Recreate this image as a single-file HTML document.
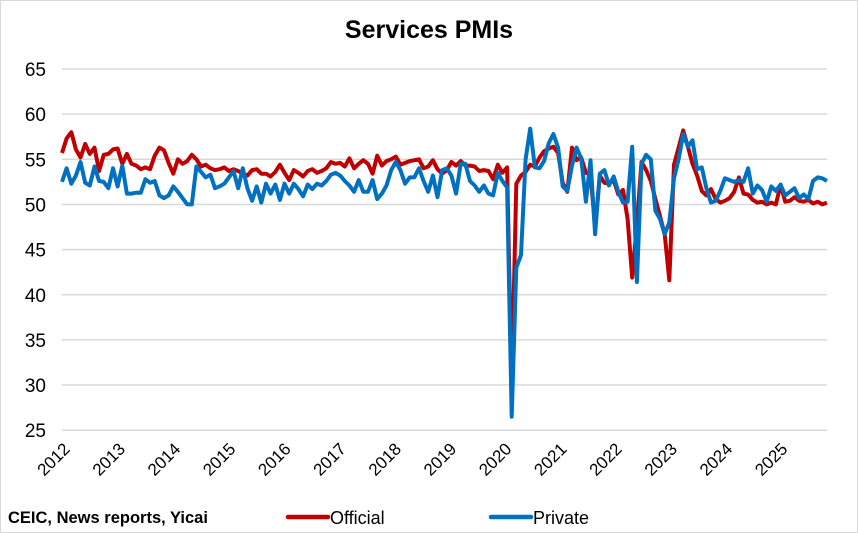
<!DOCTYPE html>
<html><head><meta charset="utf-8"><style>
html,body{margin:0;padding:0;background:#fff;}
svg{display:block;font-family:"Liberation Sans",Arial,sans-serif;}
</style></head><body>
<svg id="c" width="858" height="533" viewBox="0 0 858 533" xmlns="http://www.w3.org/2000/svg">
<rect x="0.5" y="0.5" width="857" height="532" fill="#fff" stroke="#d9d9d9" stroke-width="1"/>
<text x="429" y="38" text-anchor="middle" font-size="25" font-weight="bold" fill="#000">Services PMIs</text>
<g id="grid"></g>
<g id="lines"></g>
<text x="8" y="523" font-size="16.5" font-weight="bold" fill="#000">CEIC, News reports, Yicai</text>
<line x1="288" y1="517" x2="328" y2="517" stroke="#c00000" stroke-width="4.5" stroke-linecap="round"/>
<text x="330" y="524" font-size="18" fill="#000">Official</text>
<line x1="491" y1="517" x2="531" y2="517" stroke="#0070c0" stroke-width="4.5" stroke-linecap="round"/>
<text x="533" y="524" font-size="18" fill="#000">Private</text>
</svg>
<script>
var NS="http://www.w3.org/2000/svg";
function y(v){return 69+(65-v)*9.03;}
function x(i){return 62+i*4.636;}
var g=document.getElementById('grid');
var h='';
for(var v=25;v<=65;v+=5){h+='<line x1="62" x2="827" y1="'+y(v)+'" y2="'+y(v)+'" stroke="#d9d9d9" stroke-width="1.5"/>';
h+='<text x="46" y="'+(y(v)+7)+'" text-anchor="end" font-size="19" fill="#000">'+v+'</text>';}
for(var k=0;k<14;k++){var lx=71+55.2*k, ly=450;
h+='<text transform="translate('+lx+','+ly+') rotate(-45)" text-anchor="end" font-size="17" fill="#000">'+(2012+k)+'</text>';}
g.innerHTML=h;
var red=[55.7,57.3,58.0,56.1,55.2,56.7,55.6,56.3,53.7,55.5,55.6,56.1,
56.2,54.5,55.6,54.5,54.3,53.9,54.1,53.9,55.4,56.3,56.0,54.6,
53.4,55.0,54.5,54.8,55.5,55.0,54.2,54.4,54.0,53.8,53.9,54.1,
53.7,53.9,53.7,53.4,53.2,53.8,53.9,53.4,53.4,53.1,53.6,54.4,
53.5,52.7,53.8,53.5,53.1,53.7,53.9,53.5,53.7,54.0,54.7,54.5,
54.6,54.2,55.1,54.0,54.5,54.9,54.5,53.4,55.4,54.3,54.8,55.0,
55.3,54.4,54.6,54.8,54.9,55.0,54.0,54.2,54.9,53.9,53.4,53.8,
54.7,54.3,54.8,54.3,54.3,54.2,53.7,53.8,53.7,52.8,54.4,53.5,
54.1,29.6,52.3,53.2,53.6,54.4,54.2,55.2,55.9,56.2,56.4,55.7,
52.4,51.4,56.3,54.9,55.2,53.5,53.3,47.5,53.2,52.4,52.3,52.7,
51.1,51.6,48.4,41.9,47.8,54.7,53.8,52.6,50.6,48.7,46.7,41.6,
54.4,56.3,58.2,56.4,54.5,53.2,51.5,51.0,51.7,50.6,50.2,50.4,
50.7,51.4,53.0,51.2,51.1,50.5,50.2,50.3,50.0,50.2,50.0,52.2,
50.3,50.4,50.8,50.4,50.3,50.5,50.1,50.3,50.0,50.2];
var blue=[52.5,54.0,52.3,53.2,54.7,52.4,52.1,54.2,52.6,52.5,51.8,54.0,
52.0,54.3,51.2,51.2,51.3,51.3,52.8,52.4,52.6,51.0,50.7,51.0,
52.0,51.4,50.7,50.0,50.0,54.2,53.6,53.0,53.3,51.8,52.0,52.3,
53.0,53.7,51.8,54.0,51.8,50.4,52.0,50.2,52.3,51.2,52.2,
50.5,52.3,51.2,52.3,51.7,50.9,52.2,51.7,52.3,52.1,
52.6,53.3,53.5,53.2,52.6,52.1,51.4,52.7,51.4,51.4,
52.7,50.6,51.2,52.1,53.8,54.7,53.8,52.3,53.0,53.0,
54.0,52.6,51.4,53.2,50.8,53.8,54.0,53.2,51.2,54.5,
54.5,52.6,52.1,51.4,52.1,51.2,51.0,53.5,52.6,51.9,
26.5,43.0,44.4,55.0,58.4,54.1,54.0,54.8,56.8,57.8,56.3,
52.0,51.5,54.3,56.3,55.1,50.3,54.9,46.7,53.4,53.8,52.1,53.1,
51.4,50.2,50.3,56.4,41.4,54.5,55.5,55.0,49.3,48.4,46.7,48.0,
52.9,55.0,57.8,56.4,57.1,53.9,54.1,51.8,50.2,50.4,51.5,52.9,
52.7,52.5,52.7,52.5,54.0,51.2,52.1,51.6,50.3,52.0,51.5,52.2,
51.0,51.4,51.8,50.7,51.1,50.6,52.6,53.0,52.9,52.6];
function pts(a){return a.map(function(v,i){return x(i).toFixed(1)+','+y(v).toFixed(1);}).join(' ');}
document.getElementById('lines').innerHTML=
'<polyline points="'+pts(red)+'" fill="none" stroke="#c00000" stroke-width="4" stroke-linejoin="round"/>'+
'<polyline points="'+pts(blue)+'" fill="none" stroke="#0070c0" stroke-width="4" stroke-linejoin="round"/>';
</script>
</body></html>
